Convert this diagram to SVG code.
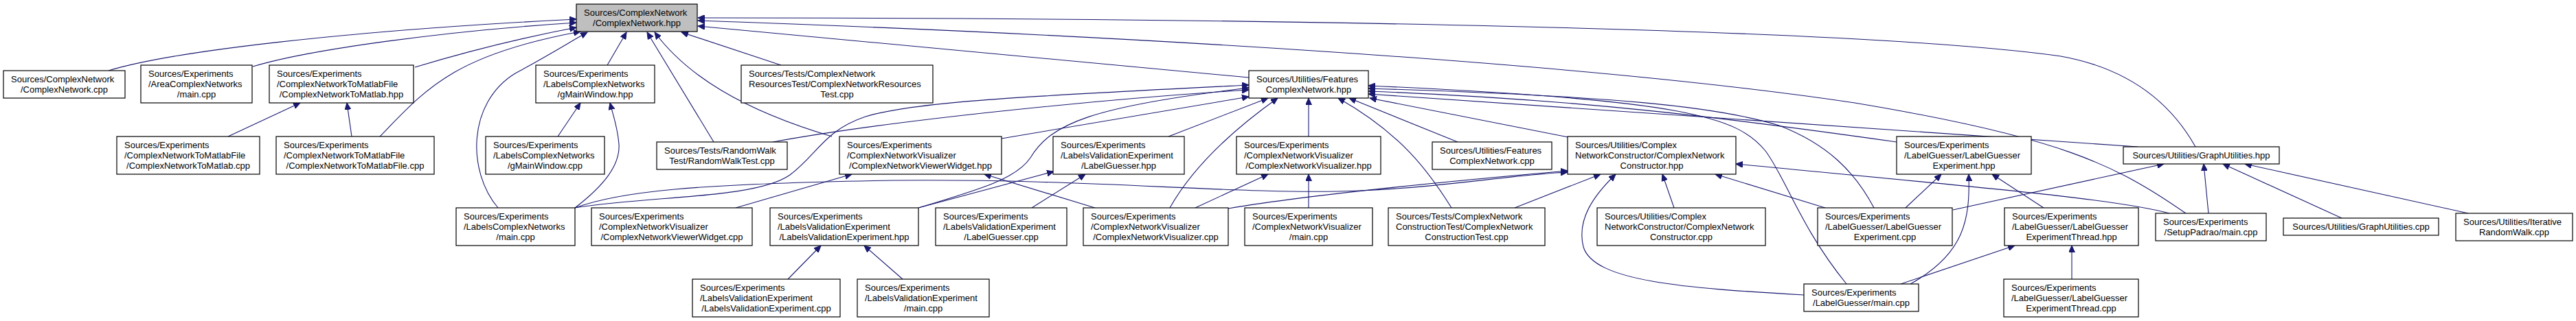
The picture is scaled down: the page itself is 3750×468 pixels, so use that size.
<svg xmlns="http://www.w3.org/2000/svg" width="3750" height="468" viewBox="0 0 3750 468">
<style>
.node rect{fill:#ffffff;stroke:#000000;stroke-width:1.2}
#root rect{fill:#bfbfbf}
text{font-family:"Liberation Sans",Arial,Helvetica,sans-serif;font-size:13px;fill:#000000}
.m{text-anchor:middle}
.edge path{fill:none;stroke:#191970;stroke-width:1.1;marker-end:url(#arr)}
</style>
<defs>
<marker id="arr" markerUnits="userSpaceOnUse" markerWidth="11" markerHeight="9" refX="10" refY="4.5" orient="auto">
<path d="M0,0 L10,4.5 L0,9 z" fill="#191970" stroke="#191970" stroke-width="1"/>
</marker>
</defs>
<rect width="3750" height="468" fill="#ffffff"/>
<g id="edges" class="edge">
<path d="M158,103 C250,75 500,45 839,28"/>
<path d="M368,97 C450,72 650,45 839,33"/>
<path d="M604,98 C680,75 760,55 839,40"/>
<path d="M553,199 C620,130 660,80 845,46"/>
<path d="M725,303 C680,250 680,150 750,107 C800,80 835,58 855,47"/>
<path d="M884,95 L912,47"/>
<path d="M812,199 L845,150"/>
<path d="M837,303 C880,270 903,240 901,210 C899,185 893,170 888,150"/>
<path d="M1039,207 L942,47"/>
<path d="M1211,199 C1080,160 1000,110 953,47"/>
<path d="M1137,95 L992,47"/>
<path d="M1818,113 L1016,38"/>
<path d="M3182,311 C3080,240 3000,200 2700,150 C2300,90 1600,50 1016,30"/>
<path d="M3196,214 C3160,150 3100,100 3000,82 C2700,40 1800,26 1016,26"/>
<path d="M332,199 L437,150"/>
<path d="M512,199 L505,150"/>
<path d="M1071,303 L1240,254"/>
<path d="M1594,303 L1433,254"/>
<path d="M1337,303 L1534,250"/>
<path d="M1337,303 C1430,275 1480,260 1500,230 C1530,180 1590,155 1818,128"/>
<path d="M837,303 C950,285 1100,290 1150,255 C1190,225 1200,190 1260,170 C1330,148 1500,140 1818,124"/>
<path d="M1125,207 C1300,175 1600,145 1818,131"/>
<path d="M1458,202 L1818,141"/>
<path d="M1701,199 L1846,143"/>
<path d="M1703,303 C1730,255 1780,200 1860,143"/>
<path d="M1905,199 L1905,143"/>
<path d="M2113,303 C2080,250 2040,195 1948,143"/>
<path d="M2122,207 L1964,143"/>
<path d="M2283,200 L1994,143"/>
<path d="M2688,414 C2620,330 2600,260 2570,220 C2530,170 2450,145 1992,125"/>
<path d="M2728,303 C2700,250 2660,210 2590,183 C2500,155 2350,140 1992,129"/>
<path d="M2761,207 C2500,170 2300,145 1992,133"/>
<path d="M3112,214 L1992,137"/>
<path d="M1740,303 L1846,254"/>
<path d="M1905,303 L1905,254"/>
<path d="M1788,304 C1900,285 2100,265 2282,249"/>
<path d="M837,303 C900,280 1000,268 1300,263 C1600,260 1800,285 1980,278 C2100,273 2200,255 2282,251"/>
<path d="M2205,303 L2330,254"/>
<path d="M2626,430 C2450,420 2320,410 2305,360 C2295,320 2320,285 2352,254"/>
<path d="M2437,303 L2420,254"/>
<path d="M2657,303 L2497,254"/>
<path d="M3158,311 C3080,290 2900,275 2527,239"/>
<path d="M2774,303 L2826,254"/>
<path d="M2781,414 C2860,370 2868,320 2866,254"/>
<path d="M2975,303 L2900,254"/>
<path d="M2767,414 L2933,358"/>
<path d="M3016,407 L3016,358"/>
<path d="M2843,306 L3150,239"/>
<path d="M3215,311 L3208,239"/>
<path d="M3409,318 L3236,239"/>
<path d="M3593,311 L3268,239"/>
<path d="M1147,407 L1195,358"/>
<path d="M1314,407 L1258,358"/>
<path d="M1502,303 L1580,254"/>
</g>
<g id="root" class="node"><rect x="839" y="6" width="176" height="40"/><text x="850" y="22.5">Sources/ComplexNetwork</text><text class="m" x="927" y="37.5">/ComplexNetwork.hpp</text></g>
<g id="n_cn_cpp" class="node"><rect x="5" y="103" width="177" height="40"/><text x="16" y="119.5">Sources/ComplexNetwork</text><text class="m" x="93.5" y="134.5">/ComplexNetwork.cpp</text></g>
<g id="n_area_main" class="node"><rect x="205" y="95" width="162" height="55"/><text x="216" y="111.5">Sources/Experiments</text><text x="216" y="126.5">/AreaComplexNetworks</text><text class="m" x="286" y="141.5">/main.cpp</text></g>
<g id="n_tomatlab_hpp" class="node"><rect x="392" y="95" width="210" height="55"/><text x="403" y="111.5">Sources/Experiments</text><text x="403" y="126.5">/ComplexNetworkToMatlabFile</text><text class="m" x="497" y="141.5">/ComplexNetworkToMatlab.hpp</text></g>
<g id="n_gmain_hpp" class="node"><rect x="780" y="95" width="173" height="55"/><text x="791" y="111.5">Sources/Experiments</text><text x="791" y="126.5">/LabelsComplexNetworks</text><text class="m" x="866.5" y="141.5">/gMainWindow.hpp</text></g>
<g id="n_restest" class="node"><rect x="1079" y="95" width="279" height="55"/><text x="1090" y="111.5">Sources/Tests/ComplexNetwork</text><text x="1090" y="126.5">ResourcesTest/ComplexNetworkResources</text><text class="m" x="1218.5" y="141.5">Test.cpp</text></g>
<g id="n_feat_hpp" class="node"><rect x="1818" y="103" width="174" height="40"/><text x="1829" y="119.5">Sources/Utilities/Features</text><text class="m" x="1905" y="134.5">ComplexNetwork.hpp</text></g>
<g id="n_tomatlab_cpp" class="node"><rect x="170" y="199" width="208" height="55"/><text x="181" y="215.5">Sources/Experiments</text><text x="181" y="230.5">/ComplexNetworkToMatlabFile</text><text class="m" x="274" y="245.5">/ComplexNetworkToMatlab.cpp</text></g>
<g id="n_tomatlabfile_cpp" class="node"><rect x="402" y="199" width="230" height="55"/><text x="413" y="215.5">Sources/Experiments</text><text x="413" y="230.5">/ComplexNetworkToMatlabFile</text><text class="m" x="517" y="245.5">/ComplexNetworkToMatlabFile.cpp</text></g>
<g id="n_gmain_cpp" class="node"><rect x="707" y="199" width="173" height="55"/><text x="718" y="215.5">Sources/Experiments</text><text x="718" y="230.5">/LabelsComplexNetworks</text><text class="m" x="793.5" y="245.5">/gMainWindow.cpp</text></g>
<g id="n_rwtest" class="node"><rect x="956" y="207" width="190" height="40"/><text x="967" y="223.5">Sources/Tests/RandomWalk</text><text class="m" x="1051" y="238.5">Test/RandomWalkTest.cpp</text></g>
<g id="n_viewer_hpp" class="node"><rect x="1222" y="199" width="236" height="55"/><text x="1233" y="215.5">Sources/Experiments</text><text x="1233" y="230.5">/ComplexNetworkVisualizer</text><text class="m" x="1340" y="245.5">/ComplexNetworkViewerWidget.hpp</text></g>
<g id="n_lg_hpp" class="node"><rect x="1533" y="199" width="191" height="55"/><text x="1544" y="215.5">Sources/Experiments</text><text x="1544" y="230.5">/LabelsValidationExperiment</text><text class="m" x="1628.5" y="245.5">/LabelGuesser.hpp</text></g>
<g id="n_vis_hpp" class="node"><rect x="1800" y="199" width="210" height="55"/><text x="1811" y="215.5">Sources/Experiments</text><text x="1811" y="230.5">/ComplexNetworkVisualizer</text><text class="m" x="1905" y="245.5">/ComplexNetworkVisualizer.hpp</text></g>
<g id="n_feat_cpp" class="node"><rect x="2085" y="207" width="174" height="40"/><text x="2096" y="223.5">Sources/Utilities/Features</text><text class="m" x="2172" y="238.5">ComplexNetwork.cpp</text></g>
<g id="n_cons_hpp" class="node"><rect x="2282" y="199" width="245" height="55"/><text x="2293" y="215.5">Sources/Utilities/Complex</text><text x="2293" y="230.5">NetworkConstructor/ComplexNetwork</text><text class="m" x="2404.5" y="245.5">Constructor.hpp</text></g>
<g id="n_lge_hpp" class="node"><rect x="2761" y="199" width="196" height="55"/><text x="2772" y="215.5">Sources/Experiments</text><text x="2772" y="230.5">/LabelGuesser/LabelGuesser</text><text class="m" x="2859" y="245.5">Experiment.hpp</text></g>
<g id="n_gu_hpp" class="node"><rect x="3091" y="214" width="227" height="25"/><text class="m" x="3204.5" y="231">Sources/Utilities/GraphUtilities.hpp</text></g>
<g id="n_lcn_main" class="node"><rect x="664" y="303" width="173" height="55"/><text x="675" y="319.5">Sources/Experiments</text><text x="675" y="334.5">/LabelsComplexNetworks</text><text class="m" x="750.5" y="349.5">/main.cpp</text></g>
<g id="n_viewer_cpp" class="node"><rect x="861" y="303" width="234" height="55"/><text x="872" y="319.5">Sources/Experiments</text><text x="872" y="334.5">/ComplexNetworkVisualizer</text><text class="m" x="978" y="349.5">/ComplexNetworkViewerWidget.cpp</text></g>
<g id="n_lve_hpp" class="node"><rect x="1121" y="303" width="216" height="55"/><text x="1132" y="319.5">Sources/Experiments</text><text x="1132" y="334.5">/LabelsValidationExperiment</text><text class="m" x="1229" y="349.5">/LabelsValidationExperiment.hpp</text></g>
<g id="n_lg_cpp" class="node"><rect x="1362" y="303" width="191" height="55"/><text x="1373" y="319.5">Sources/Experiments</text><text x="1373" y="334.5">/LabelsValidationExperiment</text><text class="m" x="1457.5" y="349.5">/LabelGuesser.cpp</text></g>
<g id="n_vis_cpp" class="node"><rect x="1577" y="303" width="211" height="55"/><text x="1588" y="319.5">Sources/Experiments</text><text x="1588" y="334.5">/ComplexNetworkVisualizer</text><text class="m" x="1682.5" y="349.5">/ComplexNetworkVisualizer.cpp</text></g>
<g id="n_vis_main" class="node"><rect x="1812" y="303" width="186" height="55"/><text x="1823" y="319.5">Sources/Experiments</text><text x="1823" y="334.5">/ComplexNetworkVisualizer</text><text class="m" x="1905" y="349.5">/main.cpp</text></g>
<g id="n_constest" class="node"><rect x="2021" y="303" width="228" height="55"/><text x="2032" y="319.5">Sources/Tests/ComplexNetwork</text><text x="2032" y="334.5">ConstructionTest/ComplexNetwork</text><text class="m" x="2135" y="349.5">ConstructionTest.cpp</text></g>
<g id="n_cons_cpp" class="node"><rect x="2325" y="303" width="245" height="55"/><text x="2336" y="319.5">Sources/Utilities/Complex</text><text x="2336" y="334.5">NetworkConstructor/ComplexNetwork</text><text class="m" x="2447.5" y="349.5">Constructor.cpp</text></g>
<g id="n_lge_cpp" class="node"><rect x="2646" y="303" width="196" height="55"/><text x="2657" y="319.5">Sources/Experiments</text><text x="2657" y="334.5">/LabelGuesser/LabelGuesser</text><text class="m" x="2744" y="349.5">Experiment.cpp</text></g>
<g id="n_lget_hpp" class="node"><rect x="2918" y="303" width="195" height="55"/><text x="2929" y="319.5">Sources/Experiments</text><text x="2929" y="334.5">/LabelGuesser/LabelGuesser</text><text class="m" x="3015.5" y="349.5">ExperimentThread.hpp</text></g>
<g id="n_setup_main" class="node"><rect x="3138" y="311" width="161" height="40"/><text x="3149" y="327.5">Sources/Experiments</text><text class="m" x="3218.5" y="342.5">/SetupPadrao/main.cpp</text></g>
<g id="n_gu_cpp" class="node"><rect x="3324" y="318" width="226" height="25"/><text class="m" x="3437" y="335">Sources/Utilities/GraphUtilities.cpp</text></g>
<g id="n_irw_cpp" class="node"><rect x="3575" y="311" width="170" height="40"/><text x="3586" y="327.5">Sources/Utilities/Iterative</text><text class="m" x="3660" y="342.5">RandomWalk.cpp</text></g>
<g id="n_lve_cpp" class="node"><rect x="1008" y="407" width="215" height="55"/><text x="1019" y="423.5">Sources/Experiments</text><text x="1019" y="438.5">/LabelsValidationExperiment</text><text class="m" x="1115.5" y="453.5">/LabelsValidationExperiment.cpp</text></g>
<g id="n_lve_main" class="node"><rect x="1248" y="407" width="192" height="55"/><text x="1259" y="423.5">Sources/Experiments</text><text x="1259" y="438.5">/LabelsValidationExperiment</text><text class="m" x="1344" y="453.5">/main.cpp</text></g>
<g id="n_lg_main" class="node"><rect x="2626" y="414" width="167" height="40"/><text x="2637" y="430.5">Sources/Experiments</text><text class="m" x="2709.5" y="445.5">/LabelGuesser/main.cpp</text></g>
<g id="n_lget_cpp" class="node"><rect x="2917" y="407" width="196" height="55"/><text x="2928" y="423.5">Sources/Experiments</text><text x="2928" y="438.5">/LabelGuesser/LabelGuesser</text><text class="m" x="3015" y="453.5">ExperimentThread.cpp</text></g>
</svg>
